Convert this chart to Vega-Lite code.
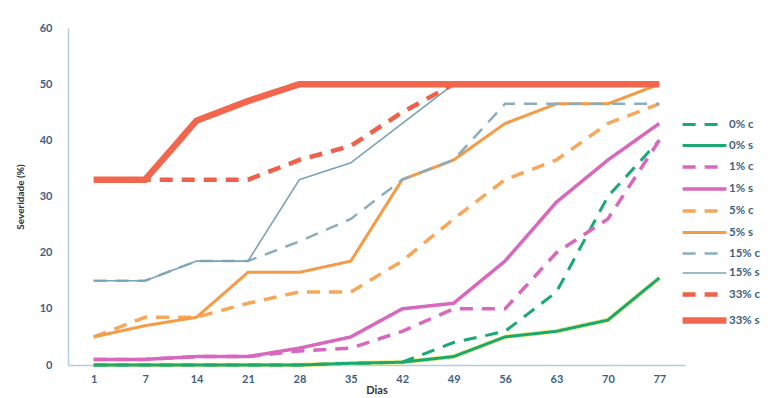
{
  "$schema": "https://vega.github.io/schema/vega-lite/v6.json",
  "autosize": {"type": "none"},
  "padding": {"left": 68, "top": 28, "right": 91, "bottom": 33},
  "width": 617,
  "height": 337,
  "background": "white",
  "config": {"view": {"stroke": null}, "font": "Lato"},
  "data": {"values": [
    {"day": 1, "series": "0% c", "value": 0}, {"day": 7, "series": "0% c", "value": 0}, {"day": 14, "series": "0% c", "value": 0}, {"day": 21, "series": "0% c", "value": 0}, {"day": 28, "series": "0% c", "value": 0}, {"day": 35, "series": "0% c", "value": 0.3}, {"day": 42, "series": "0% c", "value": 0.5}, {"day": 49, "series": "0% c", "value": 4}, {"day": 56, "series": "0% c", "value": 6}, {"day": 63, "series": "0% c", "value": 13}, {"day": 70, "series": "0% c", "value": 30}, {"day": 77, "series": "0% c", "value": 40},
    {"day": 1, "series": "0% s", "value": 0}, {"day": 7, "series": "0% s", "value": 0}, {"day": 14, "series": "0% s", "value": 0}, {"day": 21, "series": "0% s", "value": 0}, {"day": 28, "series": "0% s", "value": 0}, {"day": 35, "series": "0% s", "value": 0.3}, {"day": 42, "series": "0% s", "value": 0.5}, {"day": 49, "series": "0% s", "value": 1.5}, {"day": 56, "series": "0% s", "value": 5}, {"day": 63, "series": "0% s", "value": 6}, {"day": 70, "series": "0% s", "value": 8}, {"day": 77, "series": "0% s", "value": 15.5},
    {"day": 1, "series": "1% c", "value": 1}, {"day": 7, "series": "1% c", "value": 1}, {"day": 14, "series": "1% c", "value": 1.5}, {"day": 21, "series": "1% c", "value": 1.5}, {"day": 28, "series": "1% c", "value": 2.5}, {"day": 35, "series": "1% c", "value": 3}, {"day": 42, "series": "1% c", "value": 6}, {"day": 49, "series": "1% c", "value": 10}, {"day": 56, "series": "1% c", "value": 10}, {"day": 63, "series": "1% c", "value": 20}, {"day": 70, "series": "1% c", "value": 26}, {"day": 77, "series": "1% c", "value": 40},
    {"day": 1, "series": "1% s", "value": 1}, {"day": 7, "series": "1% s", "value": 1}, {"day": 14, "series": "1% s", "value": 1.5}, {"day": 21, "series": "1% s", "value": 1.5}, {"day": 28, "series": "1% s", "value": 3}, {"day": 35, "series": "1% s", "value": 5}, {"day": 42, "series": "1% s", "value": 10}, {"day": 49, "series": "1% s", "value": 11}, {"day": 56, "series": "1% s", "value": 18.5}, {"day": 63, "series": "1% s", "value": 29}, {"day": 70, "series": "1% s", "value": 36.5}, {"day": 77, "series": "1% s", "value": 43},
    {"day": 1, "series": "5% c", "value": 5}, {"day": 7, "series": "5% c", "value": 8.5}, {"day": 14, "series": "5% c", "value": 8.5}, {"day": 21, "series": "5% c", "value": 11}, {"day": 28, "series": "5% c", "value": 13}, {"day": 35, "series": "5% c", "value": 13}, {"day": 42, "series": "5% c", "value": 18.5}, {"day": 49, "series": "5% c", "value": 26}, {"day": 56, "series": "5% c", "value": 33}, {"day": 63, "series": "5% c", "value": 36.5}, {"day": 70, "series": "5% c", "value": 43}, {"day": 77, "series": "5% c", "value": 46.5},
    {"day": 1, "series": "5% s", "value": 5}, {"day": 7, "series": "5% s", "value": 7}, {"day": 14, "series": "5% s", "value": 8.5}, {"day": 21, "series": "5% s", "value": 16.5}, {"day": 28, "series": "5% s", "value": 16.5}, {"day": 35, "series": "5% s", "value": 18.5}, {"day": 42, "series": "5% s", "value": 33}, {"day": 49, "series": "5% s", "value": 36.5}, {"day": 56, "series": "5% s", "value": 43}, {"day": 63, "series": "5% s", "value": 46.5}, {"day": 70, "series": "5% s", "value": 46.5}, {"day": 77, "series": "5% s", "value": 50},
    {"day": 1, "series": "15% c", "value": 15}, {"day": 7, "series": "15% c", "value": 15}, {"day": 14, "series": "15% c", "value": 18.5}, {"day": 21, "series": "15% c", "value": 18.5}, {"day": 28, "series": "15% c", "value": 22}, {"day": 35, "series": "15% c", "value": 26}, {"day": 42, "series": "15% c", "value": 33}, {"day": 49, "series": "15% c", "value": 36.5}, {"day": 56, "series": "15% c", "value": 46.5}, {"day": 63, "series": "15% c", "value": 46.5}, {"day": 70, "series": "15% c", "value": 46.5}, {"day": 77, "series": "15% c", "value": 46.5},
    {"day": 1, "series": "15% s", "value": 15}, {"day": 7, "series": "15% s", "value": 15}, {"day": 14, "series": "15% s", "value": 18.5}, {"day": 21, "series": "15% s", "value": 18.5}, {"day": 28, "series": "15% s", "value": 33}, {"day": 35, "series": "15% s", "value": 36}, {"day": 42, "series": "15% s", "value": 43}, {"day": 49, "series": "15% s", "value": 50}, {"day": 56, "series": "15% s", "value": 50}, {"day": 63, "series": "15% s", "value": 50}, {"day": 70, "series": "15% s", "value": 50}, {"day": 77, "series": "15% s", "value": 50},
    {"day": 1, "series": "33% c", "value": 33}, {"day": 7, "series": "33% c", "value": 33}, {"day": 14, "series": "33% c", "value": 33}, {"day": 21, "series": "33% c", "value": 33}, {"day": 28, "series": "33% c", "value": 36.5}, {"day": 35, "series": "33% c", "value": 39}, {"day": 42, "series": "33% c", "value": 45}, {"day": 49, "series": "33% c", "value": 50}, {"day": 56, "series": "33% c", "value": 50}, {"day": 63, "series": "33% c", "value": 50}, {"day": 70, "series": "33% c", "value": 50}, {"day": 77, "series": "33% c", "value": 50},
    {"day": 1, "series": "33% s", "value": 33}, {"day": 7, "series": "33% s", "value": 33}, {"day": 14, "series": "33% s", "value": 43.5}, {"day": 21, "series": "33% s", "value": 47}, {"day": 28, "series": "33% s", "value": 50}, {"day": 35, "series": "33% s", "value": 50}, {"day": 42, "series": "33% s", "value": 50}, {"day": 49, "series": "33% s", "value": 50}, {"day": 56, "series": "33% s", "value": 50}, {"day": 63, "series": "33% s", "value": 50}, {"day": 70, "series": "33% s", "value": 50}, {"day": 77, "series": "33% s", "value": 50}
  ]},
  "encoding": {
    "x": {"field": "day", "type": "ordinal", "scale": {"type": "point", "padding": 0.5},
      "axis": {"title": "Dias", "labelAngle": 0, "ticks": false, "domainColor": "#b5cde0", "domainWidth": 1.5, "labelColor": "#3f5f7f", "labelFontSize": 11, "labelFontWeight": "bold", "labelPadding": 8, "titleFontSize": 11, "titleFontWeight": "bold", "titleColor": "#333", "titlePadding": 0}},
    "y": {"field": "value", "type": "quantitative", "scale": {"domain": [0, 60]},
      "axis": {"title": "Severidade (%)", "values": [0, 10, 20, 30, 40, 50, 60], "grid": false, "ticks": false, "domainColor": "#b5cde0", "domainWidth": 1.5, "labelColor": "#3f5f7f", "labelFontSize": 11, "labelFontWeight": "bold", "labelPadding": 16, "titleFontSize": 10, "titleFontWeight": "bold", "titleColor": "#333", "titlePadding": 14}}
  },
  "layer": [
    {
      "transform": [{"filter": "datum.series == '0% s'"}],
      "mark": {"type": "line", "color": "#f2ef7a", "strokeWidth": 4.5},
      "encoding": {}
    },
    {
      "mark": {"type": "line", "strokeCap": "butt"},
      "encoding": {
        "color": {"field": "series", "type": "nominal",
          "scale": {"domain": ["0% c", "0% s", "1% c", "1% s", "5% c", "5% s", "15% c", "15% s", "33% c", "33% s"],
            "range": ["#1aa874", "#1aa874", "#d868bd", "#d868bd", "#f7a75a", "#f59a45", "#8aaebf", "#7aa3b8", "#f0604a", "#f2664e"]},
          "legend": {"title": null, "orient": "none", "legendX": 622, "legendY": 84, "labelFontSize": 11.5, "labelFontWeight": "bold", "labelColor": "#3f5f7f", "symbolType": "M-2,0H2", "symbolSize": 480, "rowPadding": 2, "labelOffset": 10}},
        "strokeDash": {"field": "series", "type": "nominal",
          "scale": {"domain": ["0% c", "0% s", "1% c", "1% s", "5% c", "5% s", "15% c", "15% s", "33% c", "33% s"],
            "range": [[13, 9], [1, 0], [13, 9], [1, 0], [13, 9], [1, 0], [13, 9], [1, 0], [13, 9], [1, 0]]},
          "legend": {"title": null}},
        "strokeWidth": {"field": "series", "type": "ordinal",
          "scale": {"type": "ordinal", "domain": ["0% c", "0% s", "1% c", "1% s", "5% c", "5% s", "15% c", "15% s", "33% c", "33% s"],
            "range": [3, 3, 3.5, 3.5, 3.5, 3, 2.5, 1.6, 4.5, 6.5]},
          "legend": {"title": null}}
      }
    }
  ]
}
